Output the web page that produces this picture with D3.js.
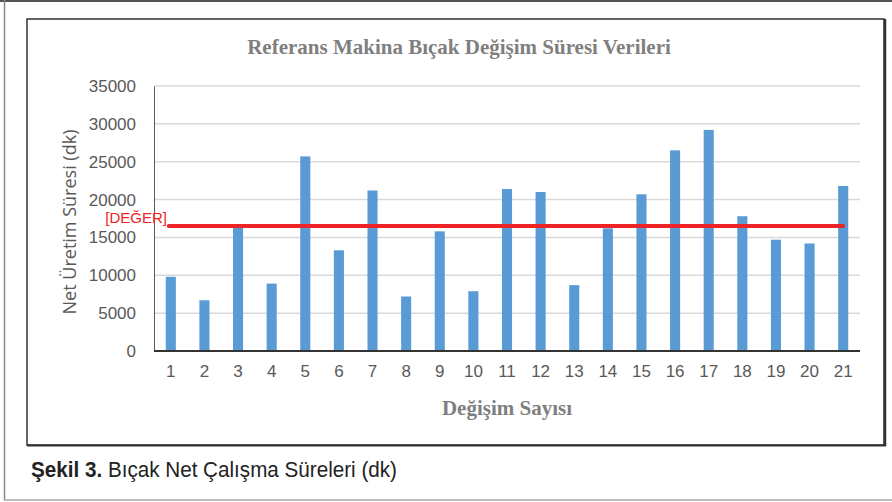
<!DOCTYPE html>
<html><head><meta charset="utf-8">
<script src="https://cdn.jsdelivr.net/npm/d3@7"></script>
<style>html,body{margin:0;padding:0;background:#fff;}</style>
</head><body>
<svg id="c" width="892" height="502"></svg>
<script>
const categories = ["1","2","3","4","5","6","7","8","9","10","11","12","13","14","15","16","17","18","19","20","21"];
const values = [9800,6700,16300,8900,25700,13300,21200,7200,15800,7900,21400,21000,8700,16200,20700,26500,29200,17800,14700,14200,21800];
const refValue = 16500;
const refLabel = "[DEĞER]";
const yTicks = [0,5000,10000,15000,20000,25000,30000,35000];
const title = "Referans Makina Bıçak Değişim Süresi Verileri";
const xTitle = "Değişim Sayısı";
const yTitle = "Net Üretim Süresi (dk)";
const captionBold = "Şekil 3.";
const captionRest = " Bıçak Net Çalışma Süreleri (dk)";

const tickFont = "'Liberation Sans', Arial, sans-serif";
const svg = d3.select("#c");
// outer page frame
svg.append("line").attr("x1",0).attr("x2",892).attr("y1",1).attr("y2",1).attr("stroke","#555").attr("stroke-width",2);
svg.append("line").attr("x1",4.5).attr("x2",4.5).attr("y1",0).attr("y2",500).attr("stroke","#888").attr("stroke-width",1.5);
svg.append("line").attr("x1",4).attr("x2",892).attr("y1",500).attr("y2",500).attr("stroke","#aaa").attr("stroke-width",1.5);
// chart frame
svg.append("rect").attr("x",27).attr("y",19).attr("width",857).attr("height",426).attr("fill","#fff").attr("stroke","#333").attr("stroke-width",1.5);
svg.append("line").attr("x1",885).attr("x2",885).attr("y1",19).attr("y2",446).attr("stroke","#333").attr("stroke-width",2.5);
svg.append("line").attr("x1",27).attr("x2",886).attr("y1",445.5).attr("y2",445.5).attr("stroke","#333").attr("stroke-width",2);

const x = d3.scaleBand().domain(categories).range([154,860]).paddingInner(0.7).paddingOuter(0.35);
const y = d3.scaleLinear().domain([0,35000]).range([351,86]);

// gridlines
svg.append("g").selectAll("line").data(yTicks.filter(d=>d>0)).join("line")
  .attr("x1",154).attr("x2",860).attr("y1",d=>y(d)).attr("y2",d=>y(d))
  .attr("stroke","#d9d9d9").attr("stroke-width",1.5);

// y axis
const yAxis = d3.axisLeft(y).tickValues(yTicks).tickSize(0).tickPadding(18).tickFormat(d=>String(d));
const gy = svg.append("g").attr("transform","translate(154,0)").call(yAxis);
gy.select(".domain").attr("stroke","#595959").attr("stroke-width",1);
gy.selectAll("text").attr("font-family",tickFont).attr("font-size",17).attr("fill","#595959");

// bars
svg.append("g").selectAll("rect").data(values).join("rect")
  .attr("x",(d,i)=>x(categories[i])).attr("width",x.bandwidth())
  .attr("y",d=>y(d)).attr("height",d=>y(0)-y(d))
  .attr("fill","#5b9bd5");

// x axis
const xAxis = d3.axisBottom(x).tickSize(0).tickPadding(14);
const gx = svg.append("g").attr("transform","translate(0,351)").call(xAxis);
gx.select(".domain").attr("stroke","#333").attr("stroke-width",2).attr("d","M154,0H860");
gx.selectAll("text").attr("font-family",tickFont).attr("font-size",17).attr("fill","#595959");

// reference line
svg.append("line").attr("x1",x(categories[0])+x.bandwidth()/2-2).attr("x2",x(categories[categories.length-1])+x.bandwidth()/2)
  .attr("y1",y(refValue)).attr("y2",y(refValue)).attr("stroke","#ee2326").attr("stroke-width",4).attr("stroke-linecap","round");
svg.append("text").attr("x",167).attr("y",y(refValue)-3).attr("text-anchor","end")
  .attr("font-family",tickFont).attr("font-size",15).attr("fill","#ee2326").text(refLabel);

// titles
svg.append("text").attr("x",459).attr("y",54).attr("text-anchor","middle")
  .attr("font-family","'Liberation Serif', serif").attr("font-weight","bold").attr("font-size",21).attr("fill","#7f7f7f").text(title);
svg.append("text").attr("x",507).attr("y",415).attr("text-anchor","middle")
  .attr("font-family","'Liberation Serif', serif").attr("font-weight","bold").attr("font-size",21).attr("fill","#7f7f7f").text(xTitle);
svg.append("text").attr("transform","translate(76,222) rotate(-90)").attr("text-anchor","middle")
  .attr("font-family","'Open Sans', sans-serif").attr("font-size",18).attr("fill","#595959").text(yTitle);

// caption
const cap = svg.append("text").attr("x",31).attr("y",477)
  .attr("font-family","'Liberation Sans Narrow','Liberation Sans', Arial, sans-serif").attr("font-size",22).attr("fill","#222")
  .attr("textLength",366).attr("lengthAdjust","spacingAndGlyphs");
cap.append("tspan").attr("font-weight","bold").text(captionBold);
cap.append("tspan").text(captionRest);
</script>
</body></html>
